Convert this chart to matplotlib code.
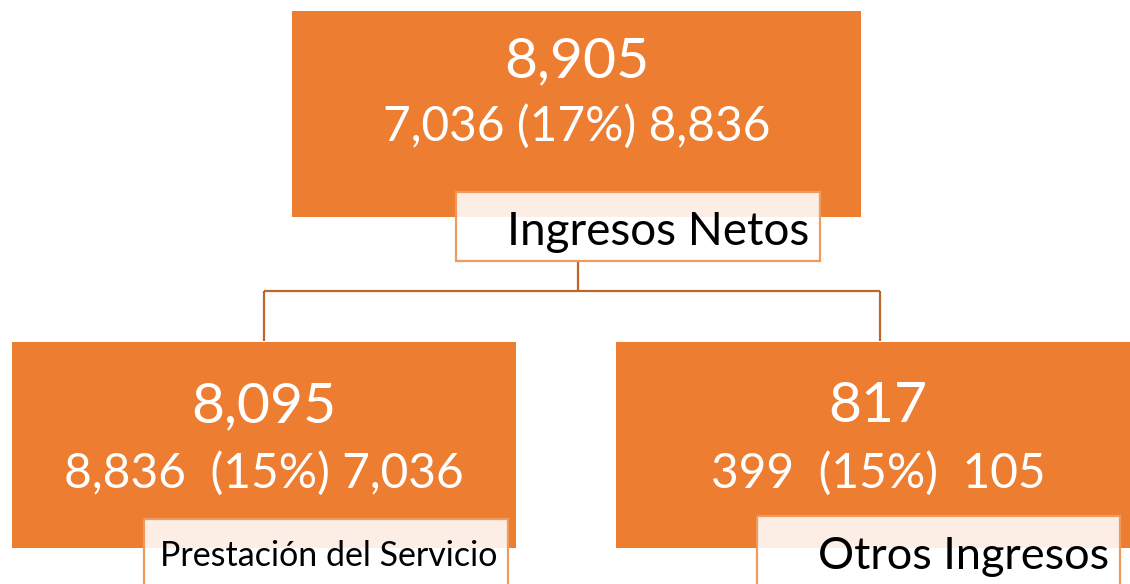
import matplotlib
matplotlib.use("Agg")
import matplotlib.pyplot as plt
from matplotlib.patches import Rectangle

# ---- data ----
node_names = ["Ingresos Netos", "Prestación del Servicio", "Otros Ingresos"]
node_values = ["8,905", "8,095", "817"]
node_details = ["7,036 (17%) 8,836", "8,836  (15%) 7,036", "399  (15%)  105"]

ORANGE = "#ED7D31"
LINE = "#C0652C"
BORDER = "#F19A5E"
FONT = ["Lato", "DejaVu Sans"]

W, H = 1130, 584
fig = plt.figure(figsize=(W / 100, H / 100), dpi=100)
ax = fig.add_axes([0, 0, 1, 1])
ax.set_xlim(0, W)
ax.set_ylim(H, 0)
ax.axis("off")

# layout (pixels): box (x0, y0, x1, y1), label box (x0, y0, x1, y1)
boxes = [(292, 11, 861, 217), (12, 342, 516, 548), (616, 342, 1140, 548)]
labels = [(456, 192, 820, 261), (144, 519, 508, 590), (757, 516, 1120, 590)]
value_base = [77, 422, 422]
detail_base = [141, 488, 488]
label_base = [245, 566, 569]
label_size = [33, 24.5, 32.5]

# connectors
ax.plot([578, 578], [261, 291], color=LINE, lw=1.6, solid_capstyle="butt")
ax.plot([264, 880], [291, 291], color=LINE, lw=1.6, solid_capstyle="butt")
ax.plot([264, 264], [291, 341], color=LINE, lw=1.6, solid_capstyle="butt")
ax.plot([880, 880], [291, 341], color=LINE, lw=1.6, solid_capstyle="butt")

for i, name in enumerate(node_names):
    x0, y0, x1, y1 = boxes[i]
    ax.add_patch(Rectangle((x0, y0), x1 - x0, y1 - y0, facecolor=ORANGE,
                           edgecolor="none", zorder=2))
    cx = (x0 + x1) / 2
    ax.text(cx, value_base[i], node_values[i], ha="center", va="baseline",
            color="white", fontsize=41, family=FONT, zorder=3)
    ax.text(cx, detail_base[i], node_details[i], ha="center", va="baseline",
            color="white", fontsize=34.5, family=FONT, zorder=3)
    lx0, ly0, lx1, ly1 = labels[i]
    ax.add_patch(Rectangle((lx0, ly0), lx1 - lx0, ly1 - ly0, facecolor="white",
                           alpha=0.88, edgecolor="none", zorder=4))
    ax.add_patch(Rectangle((lx0, ly0), lx1 - lx0, ly1 - ly0, facecolor="none",
                           edgecolor=BORDER, lw=1.6, zorder=5))
    ax.text(lx1 - 11, label_base[i], name, ha="right", va="baseline",
            color="black", fontsize=label_size[i], family=FONT, zorder=6)

fig.savefig("out.png", dpi=100)
